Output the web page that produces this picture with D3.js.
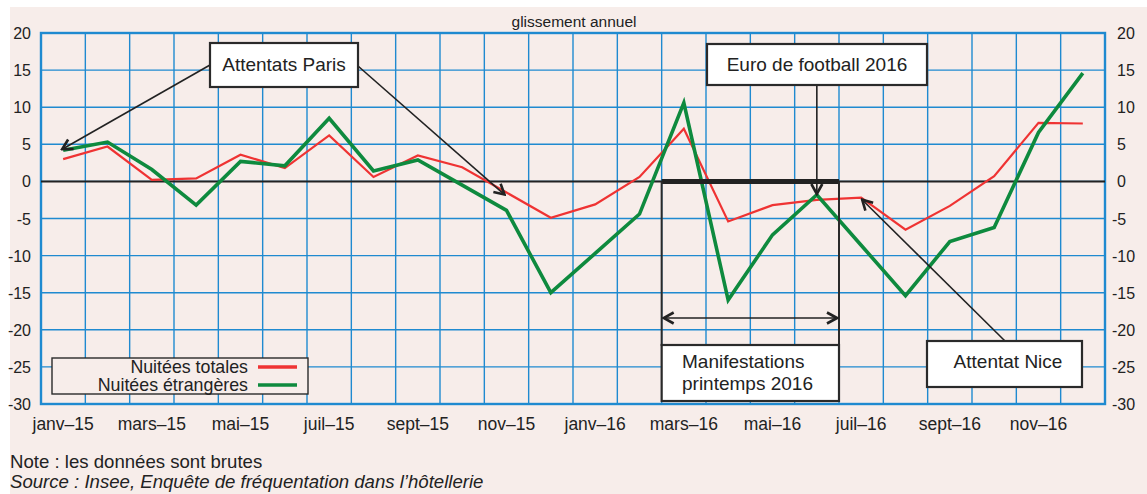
<!DOCTYPE html>
<html>
<head>
<meta charset="utf-8">
<script src="https://cdn.jsdelivr.net/npm/d3@7"></script>
<style>
  body { margin: 0; background: #fff; }
  text { font-family: "Liberation Sans", Arial, sans-serif; fill: #222; }
</style>
</head>
<body>
<div id="chart"></div>
<script>
// months (one column each), only every other one gets a label
let months = ["janv-15", "févr-15", "mars-15", "avr-15", "mai-15", "juin-15",
  "juil-15", "août-15", "sept-15", "oct-15", "nov-15", "déc-15",
  "janv-16", "févr-16", "mars-16", "avr-16", "mai-16", "juin-16",
  "juil-16", "août-16", "sept-16", "oct-16", "nov-16", "déc-16"];
let tickMonths = ["janv-15", "mars-15", "mai-15", "juil-15", "sept-15", "nov-15",
  "janv-16", "mars-16", "mai-16", "juil-16", "sept-16", "nov-16"];

// glissement annuel (%)
let totales = [3.0, 4.7, 0.2, 0.4, 3.6, 1.8, 6.2, 0.6, 3.5, 1.9, -1.5, -4.9,
  -3.1, 0.6, 7.1, -5.4, -3.2, -2.5, -2.2, -6.5, -3.3, 0.7, 7.9, 7.8];
let etrangeres = [4.2, 5.3, 1.6, -3.2, 2.7, 2.1, 8.5, 1.4, 2.9, -0.5, -3.9, -15.0,
  -9.7, -4.4, 10.6, -16.0, -7.2, -1.8, -8.6, -15.4, -8.1, -6.2, 6.6, 14.6];

let yTicks = [20, 15, 10, 5, 0, -5, -10, -15, -20, -25, -30];

let svgWidth = 1147;
let svgHeight = 494;

let plot = { left: 41, right: 1105, top: 33, bottom: 404 };

let svg = d3.select("#chart")
  .append("svg")
  .attr("width", svgWidth)
  .attr("height", svgHeight);

// pink background
svg.append("rect")
  .attr("x", 10).attr("y", 7)
  .attr("width", svgWidth - 10).attr("height", svgHeight - 7)
  .attr("fill", "#f7edea");

// scales
let x = d3.scaleBand().domain(months).range([plot.left, plot.right]);
let y = d3.scaleLinear().domain([-30, 20]).range([plot.bottom, plot.top]);
let cx = m => x(m) + x.bandwidth() / 2;

let blue = "#1f8ad0";

// grid
let grid = svg.append("g");
grid.selectAll(".hg").data(yTicks).enter().append("line")
  .attr("x1", plot.left).attr("x2", plot.right)
  .attr("y1", d => y(d)).attr("y2", d => y(d))
  .attr("stroke", blue).attr("stroke-width", 1.4);
grid.selectAll(".vg").data(months.slice(1)).enter().append("line")
  .attr("x1", d => x(d)).attr("x2", d => x(d))
  .attr("y1", plot.top).attr("y2", plot.bottom)
  .attr("stroke", blue).attr("stroke-width", 1.4);
grid.append("rect")
  .attr("x", plot.left).attr("y", plot.top)
  .attr("width", plot.right - plot.left).attr("height", plot.bottom - plot.top)
  .attr("fill", "none").attr("stroke", blue).attr("stroke-width", 2.4);

// zero line
svg.append("line")
  .attr("x1", plot.left).attr("x2", plot.right)
  .attr("y1", y(0)).attr("y2", y(0))
  .attr("stroke", "#222").attr("stroke-width", 2);

// y labels both sides
svg.append("g").selectAll("text").data(yTicks).enter().append("text")
  .attr("x", 31).attr("y", d => y(d) + 6)
  .attr("text-anchor", "end")
  .attr("font-size", "16px")
  .text(d => d);
svg.append("g").selectAll("text").data(yTicks).enter().append("text")
  .attr("x", d => d < 0 ? 1112 : 1117).attr("y", d => y(d) + 6)
  .attr("text-anchor", "start")
  .attr("font-size", "16px")
  .text(d => d);

// x labels
svg.append("g").selectAll("text").data(tickMonths).enter().append("text")
  .attr("x", d => cx(d)).attr("y", 430)
  .attr("text-anchor", "middle")
  .attr("font-size", "17.5px")
  .text(d => d.replace("-", "\u2013"));

svg.append("text")
  .attr("x", 574).attr("y", 27)
  .attr("text-anchor", "middle")
  .attr("font-size", "15.5px")
  .attr("fill", "#333")
  .text("glissement annuel");

// series
let line = d3.line().x((d, i) => cx(months[i])).y(d => y(d));
svg.append("path").datum(totales)
  .attr("d", line).attr("fill", "none")
  .attr("stroke", "#ef3333").attr("stroke-width", 2.2);
svg.append("path").datum(etrangeres)
  .attr("d", line).attr("fill", "none")
  .attr("stroke", "#0e8a3e").attr("stroke-width", 3.6);

// arrow marker
let defs = svg.append("defs");
defs.append("marker")
  .attr("id", "head")
  .attr("viewBox", "0 0 14 14")
  .attr("refX", 12).attr("refY", 7)
  .attr("markerWidth", 14).attr("markerHeight", 14)
  .attr("markerUnits", "userSpaceOnUse")
  .attr("orient", "auto-start-reverse")
  .append("path")
  .attr("d", "M2,1.5 L12,7 L2,12.5")
  .attr("fill", "none").attr("stroke", "#222").attr("stroke-width", 2.6);

let ann = svg.append("g");

function arrow(x1, y1, x2, y2, both) {
  let l = ann.append("line")
    .attr("x1", x1).attr("y1", y1).attr("x2", x2).attr("y2", y2)
    .attr("stroke", "#222").attr("stroke-width", 1.6)
    .attr("marker-end", "url(#head)");
  if (both) l.attr("marker-start", "url(#head)");
}

function box(x0, y0, w, h) {
  ann.append("rect")
    .attr("x", x0).attr("y", y0).attr("width", w).attr("height", h)
    .attr("fill", "#fff").attr("stroke", "#2a2a2a").attr("stroke-width", 2.2);
}

// Attentats Paris
arrow(210, 65, cx("janv-15") - 1, y(etrangeres[0]) - 1);
arrow(358, 66, cx("nov-15") - 2, y(totales[10]) + 2);
box(210, 43, 148, 44);
ann.append("text").attr("x", 284).attr("y", 71).attr("text-anchor", "middle")
  .attr("font-size", "19px").text("Attentats Paris");

// Euro de football 2016 / Manifestations printemps 2016
let spanStart = x("mars-16");
let spanEnd = x("juil-16");
ann.append("line")
  .attr("x1", spanStart).attr("x2", spanEnd)
  .attr("y1", y(0)).attr("y2", y(0))
  .attr("stroke", "#222").attr("stroke-width", 5);
ann.selectAll(".side").data([spanStart, spanEnd]).enter().append("line")
  .attr("x1", d => d).attr("x2", d => d)
  .attr("y1", y(0)).attr("y2", 346)
  .attr("stroke", "#2a2a2a").attr("stroke-width", 2);
arrow(spanStart + 2, 318, spanEnd - 2, 318, true);
box(spanStart, 345, spanEnd - spanStart, 56);
ann.append("text").attr("x", 682).attr("y", 368)
  .attr("font-size", "19px").text("Manifestations");
ann.append("text").attr("x", 682).attr("y", 390)
  .attr("font-size", "19px").text("printemps 2016");

arrow(cx("juin-16"), 85, cx("juin-16"), 194);
box(707, 44, 220, 41);
ann.append("text").attr("x", 817).attr("y", 71).attr("text-anchor", "middle")
  .attr("font-size", "19px").text("Euro de football 2016");

// Attentat Nice
arrow(1005, 341, cx("juil-16") + 1, y(totales[18]) + 2);
box(927, 341, 155, 46);
ann.append("text").attr("x", 1008).attr("y", 368).attr("text-anchor", "middle")
  .attr("font-size", "19px").text("Attentat Nice");

// legend
let legend = svg.append("g");
legend.append("rect")
  .attr("x", 52).attr("y", 358).attr("width", 256).attr("height", 36)
  .attr("fill", "#f7edea").attr("stroke", "#2a2a2a").attr("stroke-width", 1.4);
let legItems = [["Nuitées totales", "#ef3333", 367], ["Nuitées étrangères", "#0e8a3e", 385]];
legend.selectAll("text").data(legItems).enter().append("text")
  .attr("x", 248).attr("y", d => d[2] + 6)
  .attr("text-anchor", "end")
  .attr("font-size", "17.8px")
  .text(d => d[0]);
legend.selectAll("line").data(legItems).enter().append("line")
  .attr("x1", 258).attr("x2", 297)
  .attr("y1", d => d[2]).attr("y2", d => d[2])
  .attr("stroke", d => d[1]).attr("stroke-width", 3.4);

// notes
svg.append("text").attr("x", 10).attr("y", 468)
  .attr("font-size", "18.6px").attr("fill", "#444")
  .text("Note : les données sont brutes");
svg.append("text").attr("x", 10).attr("y", 488)
  .attr("font-size", "18.6px").attr("fill", "#444").attr("font-style", "italic")
  .text("Source : Insee, Enquête de fréquentation dans l’hôtellerie");
</script>
</body>
</html>
